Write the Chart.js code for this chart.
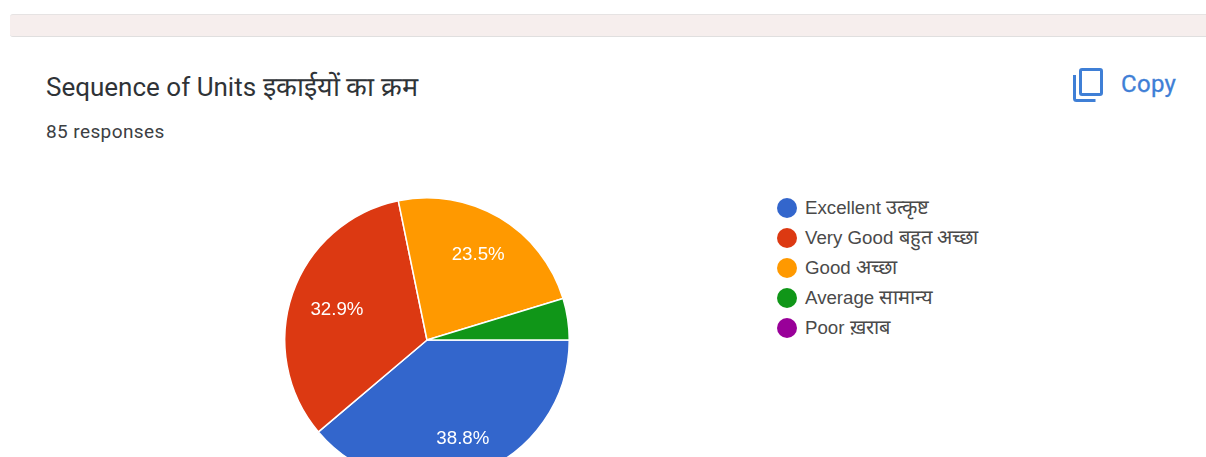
<!DOCTYPE html>
<html>
<head>
<meta charset="utf-8">
<title>Sequence of Units</title>
<script src="https://cdn.jsdelivr.net/npm/chart.js@4"></script>
<style>
    html, body { margin: 0; padding: 0; width: 1206px; height: 457px; overflow: hidden; background: #fff; }
    .band { position: absolute; left: 10px; top: 14px; width: 1196px; height: 21px; background: #f6eeed;
            border-top: 1px solid #e6e3e3; border-bottom: 1px solid #e0dfdf; border-radius: 3px 0 0 3px; }
    .title { position: absolute; left: 46px; top: 71px; font: 26px Roboto, sans-serif; line-height: 32px; color: #2f3337; white-space: nowrap; }
    .title span { font-size: 27px; }
    .count { position: absolute; left: 46px; top: 120px; font: 19px Roboto, sans-serif; letter-spacing: 0.4px; color: #3c4043; white-space: nowrap; }
    .copy { position: absolute; left: 1121px; top: 70px; font: 24px Roboto, sans-serif; letter-spacing: 0.3px; color: #3f7fd6; -webkit-text-stroke: 0.3px #3f7fd6; }
    .icon { position: absolute; left: 1069px; top: 64px; }
    #chartBox { position: absolute; left: 277px; top: 190px; width: 300px; height: 300px; }
    #legend { position: absolute; left: 777px; top: 192px; font: 18.7px "Liberation Sans", Arial, sans-serif; color: #4a4a4a; }
    #legend div { height: 30px; line-height: 30px; white-space: nowrap; }
    #legend i { display: inline-block; width: 20px; height: 20px; border-radius: 50%; margin-right: 8px; vertical-align: -4px; }
    #legend span { font-size: 20px; }
</style>
</head>
<body>
<div class="band"></div>
<div class="title">Sequence of Units <span>इकाईयों का क्रम</span></div>
<div class="count">85 responses</div>
<svg class="icon" width="38" height="40" viewBox="0 0 38 40" fill="none" stroke="#3f7fd6" stroke-width="3">
    <rect x="11.5" y="5.5" width="21" height="25" rx="1.5"></rect>
    <path d="M5.5 11v23.5a2 2 0 0 0 2 2h19"></path>
</svg>
<div class="copy">Copy</div>
<div id="chartBox"><canvas id="pieChart" width="300" height="300"></canvas></div>
<div id="legend"></div>

<script>
const categories = ['Excellent', 'Very Good', 'Good', 'Average', 'Poor'];
const categoriesHindi = ['उत्कृष्ट', 'बहुत अच्छा', 'अच्छा', 'सामान्य', 'ख़राब'];
const responses = [33, 28, 20, 4, 0];
const colors = ['#3366cc', '#dc3912', '#ff9900', '#109618', '#990099'];

// how far out each percent label sits, as a share of the radius
const labelReach = [0.733, 0.67, 0.705];

const sliceLabels = {
    id: 'sliceLabels',
    afterDatasetsDraw(chart) {
        const ctx = chart.ctx;
        const total = responses.reduce((a, b) => a + b, 0);
        ctx.save();
        ctx.font = '18.7px "Liberation Sans", Arial, sans-serif';
        ctx.fillStyle = '#fff';
        ctx.textAlign = 'center';
        ctx.textBaseline = 'middle';
        chart.getDatasetMeta(0).data.forEach((arc, i) => {
            const share = responses[i] / total;
            if (share < 0.05) return;
            const mid = (arc.startAngle + arc.endAngle) / 2;
            const r = arc.outerRadius * labelReach[i];
            ctx.fillText((share * 100).toFixed(1) + '%', arc.x + Math.cos(mid) * r, arc.y + Math.sin(mid) * r + 1);
        });
        ctx.restore();
    }
};

new Chart(document.getElementById('pieChart').getContext('2d'), {
    type: 'pie',
    data: {
        labels: categories.map((name, i) => name + ' ' + categoriesHindi[i]),
        datasets: [{
            data: responses,
            backgroundColor: colors,
            borderColor: '#fff',
            borderWidth: 1.5,
            hoverOffset: 0
        }]
    },
    options: {
        responsive: false,
        animation: false,
        rotation: 90,
        layout: { padding: 7 },
        plugins: {
            legend: { display: false },
            tooltip: { enabled: false }
        }
    },
    plugins: [sliceLabels]
});

const legend = document.getElementById('legend');
categories.forEach((name, i) => {
    const row = document.createElement('div');
    const dot = document.createElement('i');
    const hindi = document.createElement('span');
    dot.style.background = colors[i];
    hindi.textContent = categoriesHindi[i];
    row.appendChild(dot);
    row.appendChild(document.createTextNode(name + ' '));
    row.appendChild(hindi);
    legend.appendChild(row);
});
</script>
</body>
</html>
